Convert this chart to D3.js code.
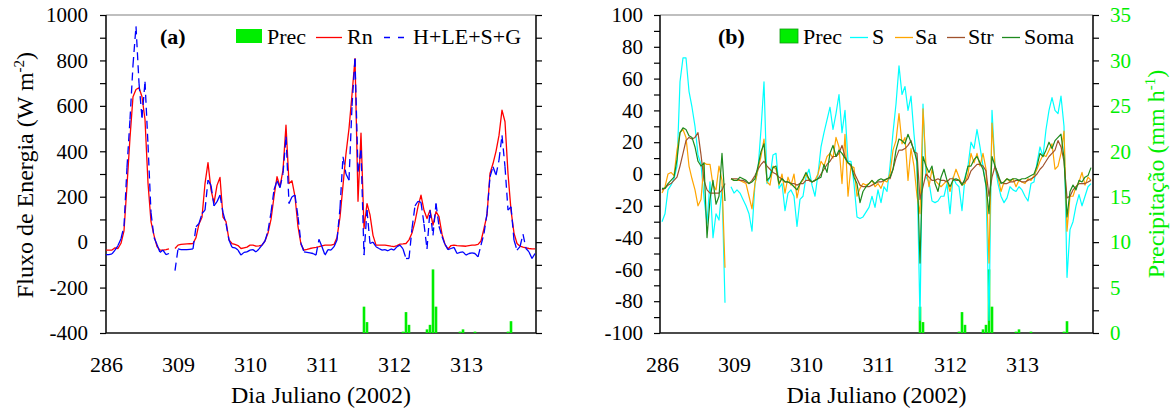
<!DOCTYPE html>
<html>
<head>
<meta charset="utf-8">
<script src="https://cdn.jsdelivr.net/npm/d3@7"></script>
<style>
  body { margin: 0; background: #fff; }
  svg text { font-family: "Liberation Serif", "Tinos", "Times New Roman", Times, "DejaVu Serif", serif; }
</style>
</head>
<body>
<script>

// ---------------------------//
//            DATA            //
// ---------------------------//

// hourly values, hour 0 = start of the first plotted day
const dayLabels = ["286", "309", "310", "311", "312", "313"];
const dayHours = [0, 24, 48, 72, 96, 120];

const fluxTicks = [-400, -200, 0, 200, 400, 600, 800, 1000];
const fluxMinor = [-300, -100, 100, 300, 500, 700, 900];
const storTicks = [-100, -80, -60, -40, -20, 0, 20, 40, 60, 80, 100];
const storMinor = [-90, -70, -50, -30, -10, 10, 30, 50, 70, 90];
const precTicks = [0, 5, 10, 15, 20, 25, 30, 35];
const precMinor = [2.5, 7.5, 12.5, 17.5, 22.5, 27.5, 32.5];

// Rn (W m-2)
const rn = [
  -35, -35, -35, -25, -28, -5, 50, 250, 460, 640, 672, 680, 640, 540, 260, 90, 30, -20, -35, -35, -33, -30, null, -28,
  -13, -10, -9, -8, -7, -6, 20, 80, 110, 258, 350, 230, 172, 250, 285, 110, 90, 10, -6, -10, -15, -28, -25, -22,
  -13, -13, -18, -16, -13, 5, 40, 100, 200, 288, 244, 317, 515, 258, 270, 200, 68, -10, -35, -32, -28, -25, -23, -20,
  -16, -13, -13, -13, -10, 20, 110, 250, 390, 500, 650, 808, 180, 480, 60, 170, 120, 30, -13, -13, -13, -13, -15, -18,
  -20, -15, -9, -8, -6, 10, 40, 90, 156, 207, 140, 104, 141, 75, 134, 112, 35, -10, -30, -15, -13, -15, -16, -17,
  -18, -15, -13, -13, -10, 5, 60, 119, 302, 346, 400, 470, 581, 530, 302, 141, 40, -6, -18, -22, -25, -28, -30, -30
];

// H+LE+S+G (W m-2)
const balance = [
  -55, -55, -52, -35, -15, 15, 70, 330, 540, 780, 950, 700, 547, 706, 430, 130, 20, -10, -45, -35, -55, -50, null, -125,
  -30, -33, -33, -33, -32, -30, 68, 82, 126, 141, 273, 250, 160, 178, 207, 130, 82, 9, -23, -25, -35, -57, -45, -43,
  -35, -33, -43, -30, -13, 5, 50, 130, 230, 270, 240, 302, 464, 170, 200, 207, 112, -6, -43, -45, -47, -50, -57, 12,
  -20, -57, -33, -35, -20, 9, 150, 376, 300, 273, 600, 808, 310, 405, -57, 141, -6, 0, -20, -28, -35, -33, -38, -30,
  -35, -20, -13, -30, -72, -72, 60, 160, 180, 175, 80, -30, 141, 30, 170, 70, 25, -10, -33, -28, -23, -50, -45, -43,
  -57, -50, -47, -50, -65, -13, 38, 126, 288, 332, 295, 361, 470, 332, 141, 156, 9, -35, -20, 35, -28, -43, -72, -50
];

// storage terms (W m-2)
const sS = [
  -30, -25, -10, -7, -3, 5, 58, 73, 73, 52, 42, 30, 12, 6, -15, -31, -5, -40, -25, -29, -8, -81, null, -8,
  -12, -10, -12, -16, -20, -25, -36, -6, 3, 28, 58, -6, -2, 12, 13, -9, -6, -23, -12, -10, -14, -33, -16, -14,
  -2, 3, -7, -14, 0, 17, 26, 34, 42, 28, 38, 50, 26, 40, 8, 8, -6, -27, -28, -27, -24, -21, -14, -21,
  -10, -18, -8, -11, 5, 26, 44, 68, 50, 55, 40, 49, 25, 5, -92, 44, -2, -5, -17, -18, -17, -14, -14, -6,
  -25, -2, -6, -8, -23, -2, 5, 20, 16, 28, 17, 5, -8, -92, 40, 5, -6, -14, -18, -15, -8, -10, -11, -8,
  -10, -14, -17, -6, -5, 7, 17, 11, 28, 40, 48, 40, 38, 49, 30, -65, -35, -30, -20, -13, -20, -14, -8, -6
];

const sA = [
  -12, -8, 0, 1, -1, 15, 26, 28, 23, 5, -3, -10, -20, -16, 7, 6, 6, -7, -10, 5, -4, -59, null, -3,
  -4, -4, -4, -5, -6, -14, -22, -6, 3, 11, 22, -5, -7, 5, 3, -7, 0, -12, -2, -7, 0, -15, -6, -4,
  0, -4, -5, -4, 0, 8, 5, 11, 13, 10, 23, 17, -6, 25, -14, 5, 4, -14, -9, -6, -7, -6, -4, -8,
  -6, -9, -4, -5, 0, 15, 21, 38, 19, 23, -4, 16, 5, -14, -25, 41, 5, -8, 3, -4, -6, -8, -6, -4,
  -11, -3, 3, -2, -7, -6, 0, 13, 7, 13, 5, 13, 3, -56, 32, 5, -2, -11, -5, -3, -5, -3, -8, -4,
  -5, -6, -3, -4, -1, 3, 8, 12, 11, 15, 19, 3, 5, 13, 27, -36, -14, -14, -8, -5, 1, -7, -2, -4
];

const sTr = [
  -10, -9, -7, -6, -4, -2, 5, 13, 21, 23, 22, 23, 26, 12, -4, -10, -12, -12, -12, -12, -10, -6, null, -3,
  -3, -3, -4, -4, -5, -6, -4, -1, 3, 6, 8, 5, 3, 1, 0, -2, -3, -5, -5, -6, -6, -7, -6, -6,
  -4, -4, -5, -4, -3, 0, 3, 6, 8, 11, 11, 13, 18, 11, 7, 5, 1, -3, -7, -8, -8, -8, -7, -6,
  -5, -5, -4, -3, -3, 3, 10, 15, 15, 16, 18, 21, 14, 13, -16, -8, 0, -2, -4, -4, -3, -4, -4, -5,
  -3, -3, -4, -4, -6, -5, -3, 2, 4, 6, 6, 5, 2, -14, -2, 5, -2, -5, -6, -6, -5, -5, -4, -4,
  -5, -5, -4, -3, -2, 0, 3, 5, 8, 11, 13, 15, 21, 17, 8, -15, -14, -10, -8, -6, -6, -6, -5, -4
];

const soma = [
  -9, -9, -6, -4, -2, 9, 26, 29, 28, 24, 23, 17, 8, 5, 7, -40, -16, -4, -19, -14, 13, -17, null, -3,
  -4, -4, -2, -3, -4, -6, -5, -3, 5, 14, 19, -4, -2, 4, 5, -6, -3, -5, -5, -6, -8, -10, -6, -3,
  1, -3, -5, -4, -3, -2, 6, 1, 13, 18, 11, 15, 13, 10, 7, 6, -2, -6, -18, -11, -8, -6, -4, -6,
  -4, -3, -4, -3, -2, 3, 15, 22, 21, 19, 25, 20, 15, 8, -56, 11, 5, 1, 5, -6, -11, -2, 3, -4,
  -8, -4, -3, -4, -7, -3, 5, 5, 9, 11, 7, 3, -7, -25, 11, 5, 0, -6, -5, -3, -4, -3, -3, -4,
  -3, -3, -2, -1, 0, 5, 13, 11, 15, 20, 16, 21, 23, 25, 10, -27, -11, -7, -10, -4, -5, -2, -1, 4
];

// precipitation (mm h-1), only the rainy hours
const precHours = [86, 87, 99, 100, 101, 107, 108, 109, 110, 118, 119, 123, 134, 135];
const precMm = [2.9, 1.2, 0.15, 2.3, 0.9, 0.4, 0.9, 7.0, 2.9, 0.15, 0.4, 0.15, 0.15, 1.3];

// ---------------------------//
//       LAYOUT AND SCALE     //
// ---------------------------//

const W = 1172, H = 410;
const plotTop = 15, plotBottom = 333;
const panelA = {left: 106, right: 536};
const panelB = {left: 660, right: 1093};
const green = "#00ee00";
const serif = "'Liberation Serif', Tinos, 'Times New Roman', Times, 'DejaVu Serif', serif";

const svg = d3.select("body").append("svg")
    .attr("width", W)
    .attr("height", H)
    .attr("font-family", serif);

const xA = d3.scaleLinear().domain([0, 143]).range([106, 535]);
const xB = d3.scaleLinear().domain([0, 143]).range([662, 1091]);
const yA = d3.scaleLinear().domain([-400, 1000]).range([plotBottom, plotTop]);
const yB = d3.scaleLinear().domain([-100, 100]).range([plotBottom, plotTop]);
const yP = d3.scaleLinear().domain([0, 35]).range([plotBottom, plotTop]);

function styleAxis(g, color) {
    g.attr("font-family", serif);
    g.select(".domain").remove();
    g.selectAll(".tick line").attr("stroke", "#000").attr("stroke-width", 1.2);
    g.selectAll("text")
        .attr("font-family", serif)
        .attr("font-size", 21)
        .attr("fill", color || "#000");
}

function frame(p) {
    svg.append("line")
        .attr("x1", p.left).attr("x2", p.right)
        .attr("y1", plotTop).attr("y2", plotTop)
        .attr("stroke", "#aaa").attr("stroke-width", 1.5);
    svg.append("path")
        .attr("d", `M${p.left},${plotTop}V${plotBottom}H${p.right}V${plotTop}`)
        .attr("fill", "none")
        .attr("stroke", "#111")
        .attr("stroke-width", 1.6);
}

function bottomAxis(x) {
    svg.append("g")
        .attr("transform", "translate(0," + plotBottom + ")")
        .call(d3.axisBottom(x).tickValues(dayHours)
            .tickFormat((d, i) => dayLabels[i]).tickSize(0).tickPadding(23))
        .call(g => styleAxis(g))
        .selectAll("text").attr("font-size", 22);
}

function leftAxis(xpos, y, major, minor, pad) {
    svg.append("g")
        .attr("transform", "translate(" + xpos + ",0)")
        .call(d3.axisLeft(y).tickValues(major).tickFormat(d => String(d)).tickSize(6).tickPadding(pad))
        .call(g => styleAxis(g));
    svg.append("g")
        .attr("transform", "translate(" + xpos + ",0)")
        .call(d3.axisLeft(y).tickValues(minor).tickFormat("").tickSize(6))
        .call(g => styleAxis(g));
}

function bars(x) {
    svg.append("g")
        .selectAll("rect")
        .data(precHours)
        .enter()
        .append("rect")
            .attr("x", d => x(d) - 1.3)
            .attr("width", 2.6)
            .attr("y", (d, i) => yP(precMm[i]))
            .attr("height", (d, i) => plotBottom - yP(precMm[i]))
            .attr("fill", green);
}

function addLine(x, y, values, color, width) {
    svg.append("path")
        .datum(values)
        .attr("fill", "none")
        .attr("stroke", color)
        .attr("stroke-width", width)
        .attr("stroke-linejoin", "round")
        .attr("d", d3.line()
            .defined(d => d !== null)
            .x((d, i) => x(i))
            .y(d => y(d)));
}

// ---------------------------//
//          PANEL (a)         //
// ---------------------------//

frame(panelA);
bottomAxis(xA);
leftAxis(panelA.left, yA, fluxTicks, fluxMinor, 12);

svg.append("g")
    .attr("transform", "translate(" + panelA.right + ",0)")
    .call(d3.axisRight(yA).tickValues(fluxTicks.concat(fluxMinor)).tickFormat("").tickSize(6))
    .call(g => styleAxis(g));

addLine(xA, yA, rn, "#ff0000", 1.3);

// dashed series: the dash pattern restarts on every hourly segment
let pairs = [];
balance.forEach((v, i) => {
    if (i > 0 && v !== null && balance[i - 1] !== null) pairs.push([i - 1, i]);
});
svg.append("g")
    .selectAll("line")
    .data(pairs)
    .enter()
    .append("line")
        .attr("x1", d => xA(d[0]))
        .attr("y1", d => yA(balance[d[0]]))
        .attr("x2", d => xA(d[1]))
        .attr("y2", d => yA(balance[d[1]]))
        .attr("stroke", "#0000ff")
        .attr("stroke-width", 1.3)
        .attr("stroke-dasharray", "8,5");

bars(xA);

svg.append("text")
    .attr("transform", "translate(33,175) rotate(-90)")
    .attr("text-anchor", "middle")
    .attr("font-size", 24)
    .text("Fluxo de Energia (W m")
    .append("tspan").attr("dy", -9).attr("font-size", 15).text("-2")
    .select(function() { return this.parentNode; })
    .append("tspan").attr("dy", 9).text(")");

svg.append("text")
    .attr("x", (panelA.left + panelA.right) / 2)
    .attr("y", 403)
    .attr("text-anchor", "middle")
    .attr("font-size", 24)
    .text("Dia Juliano (2002)");

// legend (a)
svg.append("text").attr("x", 160).attr("y", 44).attr("font-size", 22)
    .attr("font-weight", "bold").text("(a)");
svg.append("rect").attr("x", 236).attr("y", 29).attr("width", 26).attr("height", 14).attr("fill", green);
svg.append("text").attr("x", 267).attr("y", 44).attr("font-size", 22).text("Prec");
svg.append("line").attr("x1", 316).attr("x2", 342).attr("y1", 37.5).attr("y2", 37.5)
    .attr("stroke", "#ff0000").attr("stroke-width", 1.3);
svg.append("text").attr("x", 347).attr("y", 44).attr("font-size", 22).text("Rn");
svg.append("line").attr("x1", 384).attr("x2", 405).attr("y1", 37.5).attr("y2", 37.5)
    .attr("stroke", "#0000ff").attr("stroke-width", 1.3).attr("stroke-dasharray", "6,8");
svg.append("text").attr("x", 413).attr("y", 44).attr("font-size", 22).text("H+LE+S+G");

// ---------------------------//
//          PANEL (b)         //
// ---------------------------//

frame(panelB);
bottomAxis(xB);
leftAxis(panelB.left, yB, storTicks, storMinor, 11);

svg.append("g")
    .attr("transform", "translate(" + panelB.right + ",0)")
    .call(d3.axisRight(yP).tickValues(precTicks).tickFormat(d => String(d)).tickSize(6).tickPadding(11))
    .call(g => styleAxis(g, green));
svg.append("g")
    .attr("transform", "translate(" + panelB.right + ",0)")
    .call(d3.axisRight(yP).tickValues(precMinor).tickFormat("").tickSize(6))
    .call(g => styleAxis(g));

// bars go under the lines in this panel
bars(xB);

addLine(xB, yB, sS, "#00ffff", 1.2);
addLine(xB, yB, sA, "#ffa500", 1.2);
addLine(xB, yB, sTr, "#a0522d", 1.2);
addLine(xB, yB, soma, "#1e8a1e", 1.2);

svg.append("text")
    .attr("transform", "translate(1164,174) rotate(-90)")
    .attr("text-anchor", "middle")
    .attr("font-size", 24)
    .attr("fill", green)
    .text("Precipitação (mm h")
    .append("tspan").attr("dy", -9).attr("font-size", 15).text("-1")
    .select(function() { return this.parentNode; })
    .append("tspan").attr("dy", 9).text(")");

svg.append("text")
    .attr("x", (panelB.left + panelB.right) / 2)
    .attr("y", 403)
    .attr("text-anchor", "middle")
    .attr("font-size", 24)
    .text("Dia Juliano (2002)");

// legend (b)
const legendB = [
    {name: "S", color: "#00ffff", x1: 850, tx: 872},
    {name: "Sa", color: "#ffa500", x1: 895, tx: 915},
    {name: "Str", color: "#a0522d", x1: 947, tx: 968},
    {name: "Soma", color: "#1e8a1e", x1: 1002, tx: 1024}
];
svg.append("text").attr("x", 718).attr("y", 44).attr("font-size", 22)
    .attr("font-weight", "bold").text("(b)");
svg.append("rect").attr("x", 780).attr("y", 29).attr("width", 18).attr("height", 14)
    .attr("fill", green).attr("stroke", "#119911").attr("stroke-width", 0.8);
svg.append("text").attr("x", 803).attr("y", 44).attr("font-size", 22).text("Prec");

svg.selectAll("legendb")
    .data(legendB)
    .enter()
    .append("line")
    .attr("x1", d => d.x1)
    .attr("x2", d => d.x1 + 18)
    .attr("y1", 37.5)
    .attr("y2", 37.5)
    .attr("stroke", d => d.color)
    .attr("stroke-width", 1.3);

svg.selectAll("legendbtext")
    .data(legendB)
    .enter()
    .append("text")
    .attr("x", d => d.tx)
    .attr("y", 44)
    .attr("font-size", 22)
    .text(d => d.name);

</script>
</body>
</html>
